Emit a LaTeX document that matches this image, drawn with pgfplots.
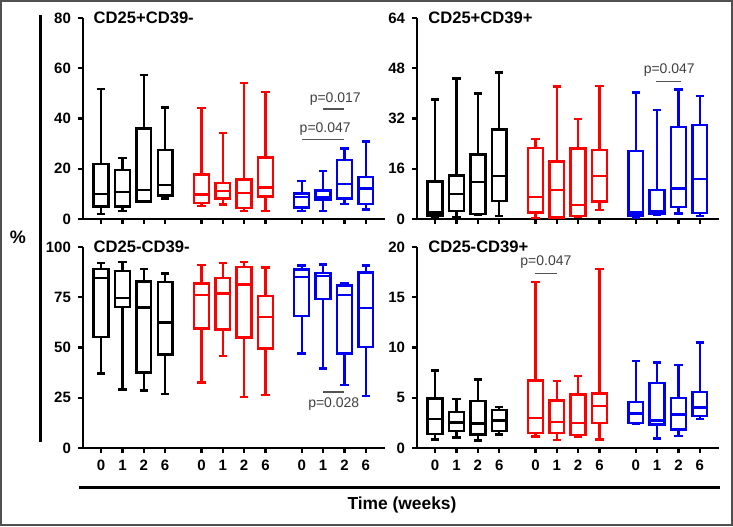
\documentclass[border=0pt]{standalone}
\usepackage{pgfplots}
\pgfplotsset{compat=1.18}
\usepackage{pgfplotstable}
\usepgfplotslibrary{statistics}
\usepackage{fontspec}
\setmainfont{Liberation Sans}
\definecolor{pgray}{HTML}{404040}
\definecolor{framegray}{HTML}{505050}
\definecolor{bred}{HTML}{FF0000}
\definecolor{bblue}{HTML}{0000F0}

% CD25+CD39-
\pgfplotstableread{
lw lq med uq uw
1.9 5.0 10.0 21.9 51.8
3.1 5.0 10.8 19.4 24.2
6.8 7.0 11.6 36.0 57.4
8.2 9.4 13.6 27.4 44.4
5.2 6.4 9.7 17.7 44.1
5.7 8.2 11.2 14.4 34.3
3.3 4.3 10.4 15.8 54.1
3.1 8.9 12.5 24.5 50.5
3.3 4.5 8.8 10.2 15.1
3.3 7.6 8.6 11.3 19.1
6.0 8.2 13.9 23.5 28.1
3.8 6.0 12.2 16.8 30.8
}\tA
% CD25+CD39+
\pgfplotstableread{
lw lq med uq uw
0.7 1.1 2.1 12.0 38.0
0.7 2.6 8.0 13.8 44.7
1.3 1.6 11.8 20.5 40.0
1.0 5.8 13.7 28.5 46.7
0.4 2.1 7.1 22.6 25.4
0.4 0.5 9.2 18.3 42.2
0.7 1.0 4.5 22.5 31.9
2.9 5.6 13.7 22.0 42.4
0.4 1.1 2.1 21.6 40.3
1.3 1.8 2.4 9.2 34.8
1.8 3.8 9.7 29.2 41.2
1.0 2.0 12.7 29.9 39.2
}\tB
% CD25-CD39-
\pgfplotstableread{
lw lq med uq uw
37.1 55.2 84.7 89.1 91.9
29.2 70.3 74.6 88.2 92.5
28.7 37.5 70.0 82.9 89.2
27.0 46.6 62.5 82.6 86.9
32.5 59.4 76.1 81.8 91.0
45.9 59.0 76.9 84.7 91.9
25.4 54.9 81.4 90.2 92.5
26.4 49.6 65.2 75.6 89.9
47.1 65.8 85.2 88.9 90.7
39.6 74.1 85.6 87.2 91.2
31.2 47.1 76.1 80.8 82.2
26.0 50.4 69.7 87.4 90.7
}\tC
% CD25-CD39+
\pgfplotstableread{
lw lq med uq uw
0.86 1.39 2.9 4.94 7.7
1.06 1.7 2.55 3.6 4.9
0.76 1.36 2.45 4.7 6.8
1.33 1.7 2.75 3.8 4.1
1.13 1.5 3.0 6.7 16.5
0.8 1.52 2.6 4.74 6.67
1.13 1.29 2.49 5.34 7.16
0.86 2.49 4.2 5.44 17.8
2.39 2.49 3.45 4.58 8.66
0.96 2.32 2.75 6.47 8.5
1.19 1.86 3.35 5.0 8.26
2.89 3.18 4.05 5.57 10.5
}\tD

\newcommand{\bx}[4]{%
\pgfplotstablegetelem{#2}{lw}\of#1\let\vlw\pgfplotsretval
\pgfplotstablegetelem{#2}{lq}\of#1\let\vlq\pgfplotsretval
\pgfplotstablegetelem{#2}{med}\of#1\let\vmed\pgfplotsretval
\pgfplotstablegetelem{#2}{uq}\of#1\let\vuq\pgfplotsretval
\pgfplotstablegetelem{#2}{uw}\of#1\let\vuw\pgfplotsretval
\edef\temp{\noexpand\addplot[#4, line width=1.2pt, boxplot prepared={draw position=#3, lower whisker=\vlw, lower quartile=\vlq, median=\vmed, upper quartile=\vuq, upper whisker=\vuw}] coordinates {};}%
\temp}
\newcommand{\allboxes}[1]{%
\bx{#1}{0}{1}{black}\bx{#1}{1}{2}{black}\bx{#1}{2}{3}{black}\bx{#1}{3}{4}{black}%
\bx{#1}{4}{5.7}{bred}\bx{#1}{5}{6.7}{bred}\bx{#1}{6}{7.7}{bred}\bx{#1}{7}{8.7}{bred}%
\bx{#1}{8}{10.4}{bblue}\bx{#1}{9}{11.4}{bblue}\bx{#1}{10}{12.4}{bblue}\bx{#1}{11}{13.4}{bblue}}

\pgfplotsset{panel/.style={
  scale only axis, width=151pt, height=100.5pt,
  axis lines*=left, axis line style={line width=1.3pt},
  xmin=0.15, xmax=14.3, ymin=0,
  xtick={1,2,3,4,5.7,6.7,7.7,8.7,10.4,11.4,12.4,13.4},
  tick align=outside, major tick length=2.5pt,
  tick style={line width=1.2pt, black},
  ticklabel style={font=\fontsize{7.5}{8}\selectfont\bfseries},
  /pgf/number format/assume math mode=true,
  boxplot/draw direction=y,
  boxplot/box extend=0.7, boxplot/whisker extend=0.4,
  clip=false, anchor=south west,
}}
\tikzset{ttl/.style={anchor=west, font=\fontsize{8.3}{9}\selectfont\bfseries},
  pv/.style={font=\fontsize{7}{8}\selectfont, text=pgray, inner sep=0pt},
  pl/.style={draw=pgray!90, line width=0.6pt}}

\begin{document}
\begin{tikzpicture}
\useasboundingbox (0,0) rectangle (366.5pt,263pt);
\draw[framegray, line width=1.2pt] (0.6pt,0.6pt) rectangle (365.9pt,262.4pt);

% top-left
\begin{axis}[panel, at={(41.5pt,153.5pt)}, ymax=80, ytick={0,20,40,60,80}, xticklabels={}]
\allboxes{\tA}
\node[ttl] at (rel axis cs:0.012,1) {CD25+CD39-};
\draw[pl] (axis cs:10.4,31.8) -- (axis cs:12.4,31.8);
\node[pv] at (axis cs:11.5,35.9) {p=0.047};
\draw[pl] (axis cs:11.4,43.8) -- (axis cs:12.4,43.8);
\node[pv] at (axis cs:11.97,47.6) {p=0.017};
\end{axis}

% top-right
\begin{axis}[panel, at={(208.5pt,153.5pt)}, ymax=64, ytick={0,16,32,48,64}, xticklabels={}]
\allboxes{\tB}
\node[ttl] at (rel axis cs:0.014,1) {CD25+CD39+};
\draw[pl] (axis cs:11.35,43.9) -- (axis cs:12.5,43.9);
\node[pv] at (axis cs:11.97,47.5) {p=0.047};
\end{axis}

% bottom-left
\begin{axis}[panel, at={(41.5pt,39pt)}, ymax=100, ytick={0,25,50,75,100}, xticklabels={0,1,2,6,0,1,2,6,0,1,2,6}]
\allboxes{\tC}
\node[ttl] at (rel axis cs:0.012,1) {CD25-CD39-};
\draw[pl] (axis cs:11.4,27.9) -- (axis cs:12.4,27.9);
\node[pv] at (axis cs:11.9,21.9) {p=0.028};
\end{axis}

% bottom-right
\begin{axis}[panel, at={(208.5pt,39pt)}, ymax=20, ytick={0,5,10,15,20}, xticklabels={0,1,2,6,0,1,2,6,0,1,2,6}]
\allboxes{\tD}
\node[ttl] at (rel axis cs:0.014,1) {CD25-CD39+};
\draw[pl] (axis cs:5.7,17.4) -- (axis cs:6.7,17.4);
\node[pv] at (axis cs:6.19,18.5) {p=0.047};
\end{axis}

\draw[black, line width=1.5pt] (20pt,255.5pt) -- (20pt,42pt);
\node[font=\fontsize{9}{10}\selectfont\bfseries] at (9pt,144.5pt) {\%};
\draw[black, line width=1.5pt] (39.5pt,19.5pt) -- (360pt,19.5pt);
\node[font=\fontsize{8.7}{10}\selectfont\bfseries] at (201pt,10.5pt) {Time (weeks)};
\end{tikzpicture}
\end{document}
